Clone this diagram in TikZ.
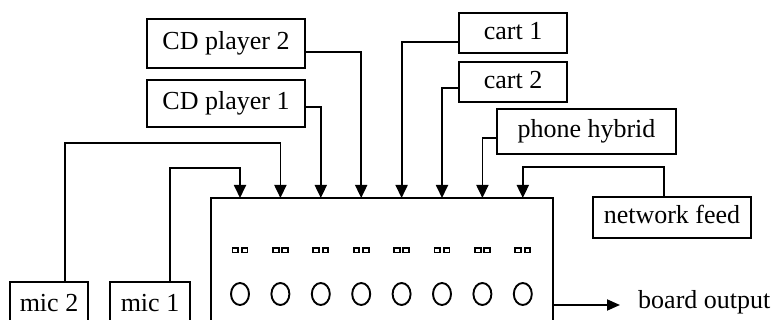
\documentclass[tikz,border=0pt]{standalone}
\usepackage{fontspec}
\setmainfont{Liberation Serif}
\usetikzlibrary{arrows.meta}
\begin{document}
\begin{tikzpicture}[x=1pt,y=-1pt,
  src/.style={draw, line width=2pt, inner sep=0pt,
    font=\fontsize{26}{30}\selectfont, text height=19pt, text depth=6pt},
  feed/.style={line width=1.8pt, -{Triangle[width=12pt,length=13pt]}},
  outarrow/.style={line width=1.8pt, -{Triangle[width=11pt,length=13pt]}},
  console/.style={draw, line width=2pt, inner sep=0pt},
  knob/.style={line width=1.9pt},
  led/.style={line width=1.9pt}]
\useasboundingbox (0,0) rectangle (776,320);

% mixing board
\node[console, minimum width=342pt, minimum height=142pt] (board) at (382,269) {};
\foreach \i in {1,...,8} {
  \coordinate (in\i) at ({240+40.4*(\i-1)},198);
  \pgfmathsetmacro{\cx}{240+40.4*(\i-1)}
  \draw[led] (\cx-7.5,248) rectangle (\cx-1.8,252.5);
  \draw[led] (\cx+1.8,248) rectangle (\cx+7.5,252.5);
  \draw[knob] (\cx,294) ellipse [x radius=9, y radius=11];
}

% sources
\node[src, minimum width=158pt, minimum height=49pt] (cd2) at (226,43.5) {CD player 2};
\node[src, minimum width=158pt, minimum height=47pt] (cd1) at (226,103.5) {CD player 1};
\node[src, minimum width=108pt, minimum height=40pt] (cart1) at (513,33) {cart 1};
\node[src, minimum width=108pt, minimum height=40pt] (cart2) at (513,82) {cart 2};
\node[src, minimum width=179pt, minimum height=45pt] (phone) at (586.5,131.5) {phone hybrid};
\node[src, minimum width=158pt, minimum height=41pt] (net) at (672,217.5) {network feed};
\node[src, minimum width=78pt, minimum height=47pt] (mic2) at (49,305.5) {mic 2};
\node[src, minimum width=80pt, minimum height=47pt] (mic1) at (150,305.5) {mic 1};

% output label
\node[anchor=base west, inner sep=0pt, font=\fontsize{26}{30}\selectfont] (outlbl) at (638,308) {board output};
\coordinate (outtip) at (620,305);

% feeds into the board
\draw[feed] ([xshift=20pt]mic1.north) |- (in1 |- 0,168) -- (in1);
\draw[feed] ([xshift=16pt]mic2.north) |- (in2 |- 0,143) -- (in2);
\draw[feed] ([yshift=-3.5pt]cd1.east) -| (in3);
\draw[feed] ([yshift=-8.5pt]cd2.east) -| (in4);
\draw[feed] ([yshift=-9pt]cart1.west) -| (in5);
\draw[feed] ([yshift=-6pt]cart2.west) -| (in6);
\draw[feed] ([yshift=-6.5pt]phone.west) -| (in7);
\draw[feed] ([xshift=-8pt]net.north) |- (in8 |- 0,167) -- (in8);

% board output
\draw[outarrow] (board.east |- outtip) -- (outtip);
\end{tikzpicture}
\end{document}
